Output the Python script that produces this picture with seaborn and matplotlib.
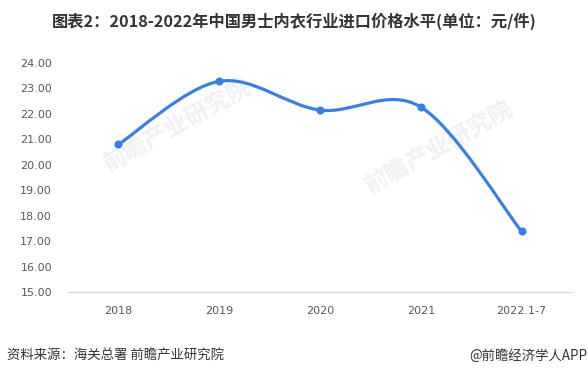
import numpy as np
import pandas as pd
import seaborn as sns
import matplotlib
matplotlib.use("Agg")
import matplotlib.pyplot as plt
from matplotlib.path import Path
from matplotlib.patches import PathPatch

categories = ["2018", "2019", "2020", "2021", "2022.1-7"]
values = [20.80, 23.28, 22.15, 22.27, 17.38]
yticks = [15, 16, 17, 18, 19, 20, 21, 22, 23, 24]
title = "图表2：2018-2022年中国男士内衣行业进口价格水平(单位：元/件)"
source = "资料来源：海关总署 前瞻产业研究院"
brand = "@前瞻经济学人APP"
watermark = "前瞻产业研究院"

sns.set_theme(style="white")
plt.rcParams["font.family"] = ["Noto Sans CJK SC", "DejaVu Sans"]

BLUE = "#3a80dc"
GRAY = "#595959"

fig = plt.figure(figsize=(5.88, 3.75), dpi=100)
ax = fig.add_axes([68/588, 1-292/375, (572-68)/588, (292-63)/375])
ax.set_facecolor("none")

# faint watermarks behind the plot
for (wx, wy) in [(178, 125), (440, 147)]:
    fig.text(wx/588, 1-wy/375, watermark, ha="center", va="center",
             fontsize=17, fontweight="bold", rotation=29, color="#f0f1f4",
             zorder=-1)

df = pd.DataFrame({"cat": categories, "val": values})
df["x"] = np.arange(len(categories))

ax.set_xlim(-0.5, len(categories) - 0.5)
ax.set_ylim(15, 24)

# Smooth line: Catmull-Rom spline through the data points, drawn as beziers
P = np.column_stack([df["x"], df["val"]]).astype(float)
n = len(P)
verts = [tuple(P[0])]
codes = [Path.MOVETO]
for i in range(n - 1):
    p0 = P[max(i - 1, 0)]
    p1 = P[i]
    p2 = P[i + 1]
    p3 = P[min(i + 2, n - 1)]
    c1 = p1 + (p2 - p0) / 6.0
    c2 = p2 - (p3 - p1) / 6.0
    verts += [tuple(c1), tuple(c2), tuple(p2)]
    codes += [Path.CURVE4] * 3
ax.add_patch(PathPatch(Path(np.array(verts), codes), facecolor="none",
                       edgecolor=BLUE, lw=2.3, capstyle="round",
                       joinstyle="round", zorder=2))

sns.scatterplot(data=df, x="x", y="val", ax=ax, color=BLUE, s=34,
                edgecolor=BLUE, linewidth=0, zorder=3, legend=False)

ax.set_xticks(df["x"])
ax.set_xticklabels(categories)
ax.set_yticks(yticks)
ax.set_yticklabels([f"{t:.2f}" for t in yticks])
ax.tick_params(axis="both", length=0, labelsize=8, colors=GRAY)
ax.tick_params(axis="x", pad=10)
ax.tick_params(axis="y", pad=11.5)
for lab in ax.get_xticklabels() + ax.get_yticklabels():
    lab.set_family(["DejaVu Sans"])
    lab.set_color(GRAY)
ax.set_xlabel("")
ax.set_ylabel("")
for s in ["top", "right", "left"]:
    ax.spines[s].set_visible(False)
ax.spines["bottom"].set_color("#d9d9d9")
ax.spines["bottom"].set_linewidth(1)
ax.grid(False)

fig.text(294/588, 1-21/375, title, ha="center", va="center", fontsize=11.7,
         fontweight="bold", color="#333333")
fig.text(7/588, 1-356/375, source, ha="left", va="center", fontsize=9.6,
         color="#333333")
fig.text(587/588, 1-356/375, brand, ha="right", va="center", fontsize=9.6,
         color="#333333")

fig.savefig("out.png", dpi=100)
